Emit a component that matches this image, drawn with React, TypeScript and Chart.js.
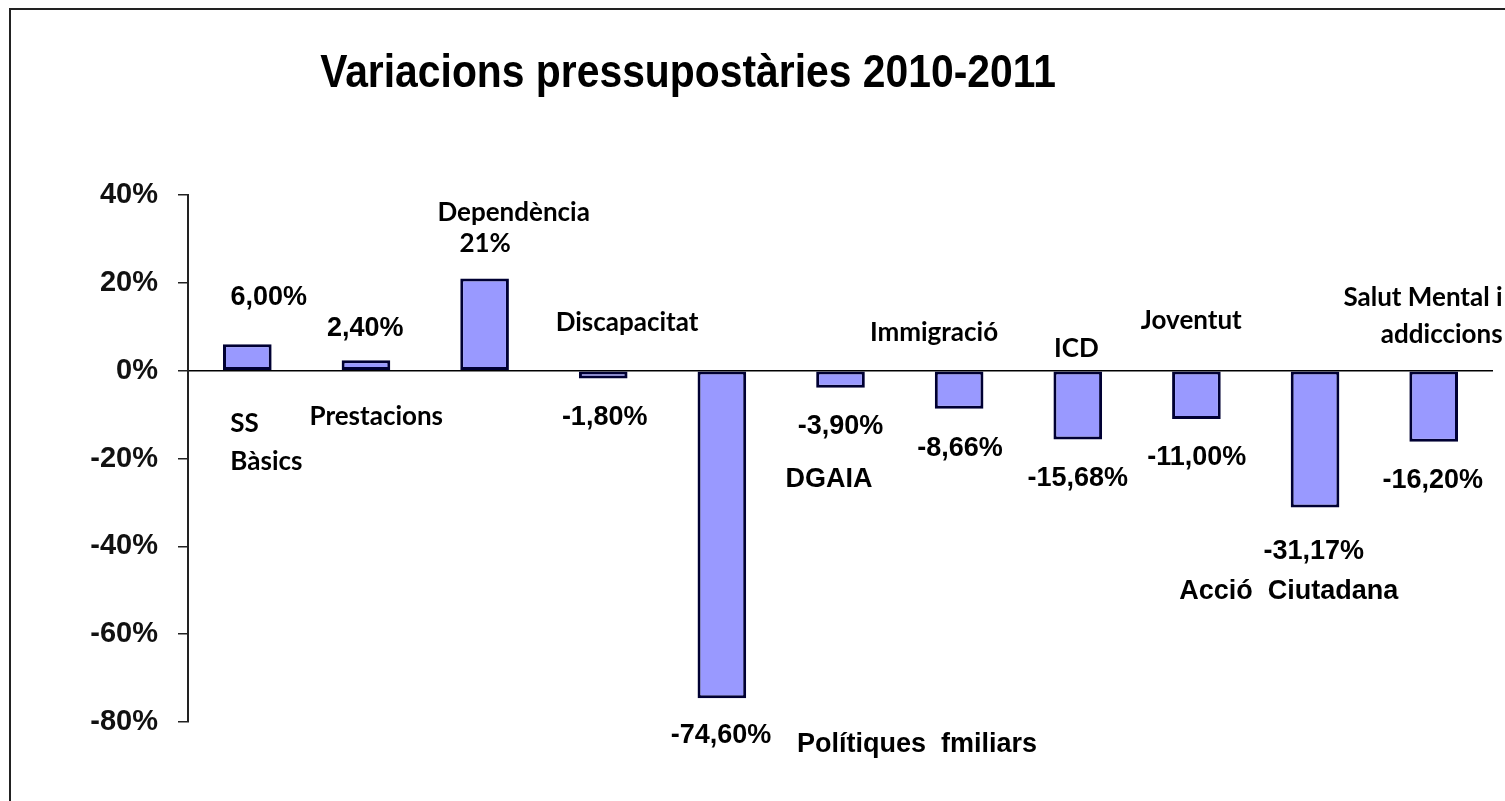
import React, { useEffect, useRef } from "react";
import { Chart, registerables } from "chart.js";

Chart.register(...registerables);

// ---- Data ----
const categories = [
  "SS Bàsics",
  "Prestacions",
  "Dependència",
  "Discapacitat",
  "Polítiques fmiliars",
  "DGAIA",
  "Immigració",
  "ICD",
  "Joventut",
  "Acció Ciutadana",
  "Salut Mental i addiccions",
];
const values = [6.0, 2.4, 21, -1.8, -74.6, -3.9, -8.66, -15.68, -11.0, -31.17, -16.2];
const valueLabels = ["6,00%", "2,40%", "21%", "-1,80%", "-74,60%", "-3,90%", "-8,66%", "-15,68%", "-11,00%", "-31,17%", "-16,20%"];
const yTicks = [40, 20, 0, -20, -40, -60, -80];
const title = "Variacions pressupostàries 2010-2011";

// ---- Label placement (data coordinates: category index, value in %) ----
const ARIAL = 'bold 27px "Liberation Sans", Arial, sans-serif';
const CALIBRI = 'bold 26px Lato, "Open Sans", sans-serif';

type Note = { text: string; i: number; v: number; align?: CanvasTextAlign; font: string };

const notes: Note[] = [
  { text: valueLabels[0], i: 0.181, v: 16.6, font: ARIAL },
  { text: "SS", i: -0.143, v: -12.1, align: "left", font: CALIBRI },
  { text: "Bàsics", i: -0.143, v: -20.7, align: "left", font: CALIBRI },
  { text: valueLabels[1], i: 0.994, v: 9.6, font: ARIAL },
  { text: "Prestacions", i: 1.087, v: -10.5, font: CALIBRI },
  { text: "Dependència", i: 2.245, v: 36.0, font: CALIBRI },
  { text: valueLabels[2], i: 2.005, v: 28.9, font: CALIBRI },
  { text: "Discapacitat", i: 3.201, v: 10.9, font: CALIBRI },
  { text: valueLabels[3], i: 3.012, v: -10.7, font: ARIAL },
  { text: valueLabels[4], i: 3.993, v: -83.1, font: ARIAL },
  { text: "Polítiques  fmiliars", i: 5.645, v: -85.2, font: ARIAL },
  { text: valueLabels[5], i: 5.0, v: -12.8, font: ARIAL },
  { text: "DGAIA", i: 4.903, v: -24.8, font: ARIAL },
  { text: "Immigració", i: 5.788, v: 8.7, font: CALIBRI },
  { text: valueLabels[6], i: 6.007, v: -17.8, font: ARIAL },
  { text: "ICD", i: 6.988, v: 5.0, font: CALIBRI },
  { text: valueLabels[7], i: 7.0, v: -24.6, font: ARIAL },
  { text: "Joventut", i: 7.957, v: 11.4, font: CALIBRI },
  { text: valueLabels[8], i: 8.003, v: -19.8, font: ARIAL },
  { text: valueLabels[9], i: 8.989, v: -41.2, font: ARIAL },
  { text: "Acció  Ciutadana", i: 8.778, v: -50.3, font: ARIAL },
  { text: "Salut Mental i", i: 10.581, v: 16.6, align: "right", font: CALIBRI },
  { text: "addiccions", i: 10.581, v: 8.2, align: "right", font: CALIBRI },
  { text: valueLabels[10], i: 9.992, v: -25.0, font: ARIAL },
];

const framePlugin = {
  id: "frame",
  beforeDraw(chart: any) {
    const ctx = chart.ctx;
    ctx.save();
    ctx.fillStyle = "#ffffff";
    ctx.fillRect(0, 0, chart.width, chart.height);
    ctx.strokeStyle = "#222";
    ctx.lineWidth = 2;
    ctx.beginPath();
    ctx.moveTo(10, chart.height);
    ctx.lineTo(10, 9);
    ctx.lineTo(chart.width, 9);
    ctx.stroke();
    ctx.restore();
  },
};

const titlePlugin = {
  id: "customTitle",
  afterDraw(chart: any) {
    const ctx = chart.ctx;
    ctx.save();
    ctx.fillStyle = "#000";
    ctx.font = 'bold 46px "Liberation Sans", Arial, sans-serif';
    ctx.textAlign = "center";
    ctx.textBaseline = "alphabetic";
    ctx.translate(688, 87);
    ctx.scale(0.888, 1);
    ctx.fillText(title, 0, 0);
    ctx.restore();
  },
};

const notesPlugin = {
  id: "notes",
  afterDatasetsDraw(chart: any) {
    const ctx = chart.ctx;
    const xs = chart.scales.x;
    const ys = chart.scales.y;
    ctx.save();
    ctx.fillStyle = "#000";
    ctx.textBaseline = "middle";
    for (const n of notes) {
      ctx.font = n.font;
      ctx.textAlign = n.align || "center";
      ctx.fillText(n.text, xs.getPixelForValue(n.i), ys.getPixelForValue(n.v));
    }
    ctx.restore();
  },
};

export default function App() {
  const ref = useRef<HTMLCanvasElement | null>(null);

  useEffect(() => {
    if (!ref.current) return;
    const chart = new Chart(ref.current, {
      type: "bar",
      data: {
        labels: categories,
        datasets: [
          {
            data: values,
            backgroundColor: "#9999FF",
            borderColor: "#000033",
            borderWidth: 3,
            borderSkipped: false,
            barPercentage: 0.41,
            categoryPercentage: 1.0,
          },
        ],
      },
      options: {
        animation: false,
        responsive: false,
        layout: { padding: { left: 0, right: 12, top: 195, bottom: 79 } },
        plugins: {
          legend: { display: false },
          title: { display: false },
          tooltip: { enabled: false },
        },
        scales: {
          x: { display: false, offset: true },
          y: {
            min: -80,
            max: 40,
            afterFit(scale: any) {
              scale.width = 188;
            },
            afterBuildTicks(scale: any) {
              scale.ticks = yTicks.map((v) => ({ value: v }));
            },
            ticks: {
              color: "#111",
              padding: 20,
              font: { family: '"Liberation Sans", Arial, sans-serif', size: 29, weight: "bold" },
              callback: (v: any) => `${v}%`,
            },
            grid: {
              color: (c: any) => (c.tick && c.tick.value === 0 ? "#000" : "rgba(0,0,0,0)"),
              lineWidth: 1.5,
              tickColor: "#222",
              tickLength: 10,
              drawTicks: true,
            },
            border: { display: true, color: "#222", width: 2 },
          },
        },
      },
      plugins: [framePlugin, notesPlugin, titlePlugin],
    });
    return () => chart.destroy();
  }, []);

  return (
    <div style={{ position: "fixed", left: 0, top: 0, width: 1505, height: 801, background: "#fff" }}>
      <canvas ref={ref} width={1505} height={801} style={{ display: "block" }} />
    </div>
  );
}
